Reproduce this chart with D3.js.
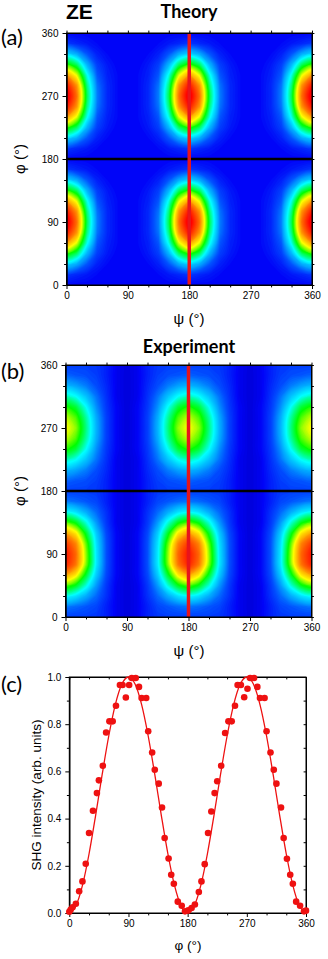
<!DOCTYPE html>
<html>
<head>
<meta charset="utf-8">
<script src="https://cdn.jsdelivr.net/npm/d3@7"></script>
<style>
html, body { margin: 0; padding: 0; background: #fff; }
svg { display: block; }
text { font-family: "Liberation Sans", Arial, sans-serif; fill: #000; }
.ttl { font-family: Lato, "Open Sans", sans-serif; font-weight: bold; }
.lbl { font-family: Lato, "Open Sans", sans-serif; }
</style>
</head>
<body>
<div id="fig"></div>
<script>
// sampling of the two maps, degrees
var psiGrid = [0,15,30,45,60,75,90,105,120,135,150,165,180,195,210,225,240,255,270,285,300,315,330,345,360];
var phiGrid = [0,15,30,45,60,75,90,105,120,135,150,165,180,195,210,225,240,255,270,285,300,315,330,345,360];

// SHG map, theory (rows = phi from 0 up, cols = psi), in %
var theoryMap = [
  [0,0,0,0,0,0,0,0,0,0,0,0,0,0,0,0,0,0,0,0,0,0,0,0,0],
  [7,5,3,1,0,0,0,0,0,1,3,5,7,5,3,1,0,0,0,0,0,1,3,5,7],
  [25,20,11,4,1,0,0,0,1,4,11,20,25,20,11,4,1,0,0,0,1,4,11,20,25],
  [50,41,21,8,3,0,0,0,3,8,21,41,50,41,21,8,3,0,0,0,3,8,21,41,50],
  [75,61,32,11,4,1,0,1,4,11,32,61,75,61,32,11,4,1,0,1,4,11,32,61,75],
  [93,76,39,14,5,1,0,1,5,14,39,76,93,76,39,14,5,1,0,1,5,14,39,76,93],
  [100,81,42,15,5,1,0,1,5,15,42,81,100,81,42,15,5,1,0,1,5,15,42,81,100],
  [93,76,39,14,5,1,0,1,5,14,39,76,93,76,39,14,5,1,0,1,5,14,39,76,93],
  [75,61,32,11,4,1,0,1,4,11,32,61,75,61,32,11,4,1,0,1,4,11,32,61,75],
  [50,41,21,8,3,0,0,0,3,8,21,41,50,41,21,8,3,0,0,0,3,8,21,41,50],
  [25,20,11,4,1,0,0,0,1,4,11,20,25,20,11,4,1,0,0,0,1,4,11,20,25],
  [7,5,3,1,0,0,0,0,0,1,3,5,7,5,3,1,0,0,0,0,0,1,3,5,7],
  [0,0,0,0,0,0,0,0,0,0,0,0,0,0,0,0,0,0,0,0,0,0,0,0,0],
  [7,5,3,1,0,0,0,0,0,1,3,5,7,5,3,1,0,0,0,0,0,1,3,5,7],
  [25,20,11,4,1,0,0,0,1,4,11,20,25,20,11,4,1,0,0,0,1,4,11,20,25],
  [50,41,21,8,3,0,0,0,3,8,21,41,50,41,21,8,3,0,0,0,3,8,21,41,50],
  [75,61,32,11,4,1,0,1,4,11,32,61,75,61,32,11,4,1,0,1,4,11,32,61,75],
  [93,76,39,14,5,1,0,1,5,14,39,76,93,76,39,14,5,1,0,1,5,14,39,76,93],
  [100,81,42,15,5,1,0,1,5,15,42,81,100,81,42,15,5,1,0,1,5,15,42,81,100],
  [93,76,39,14,5,1,0,1,5,14,39,76,93,76,39,14,5,1,0,1,5,14,39,76,93],
  [75,61,32,11,4,1,0,1,4,11,32,61,75,61,32,11,4,1,0,1,4,11,32,61,75],
  [50,41,21,8,3,0,0,0,3,8,21,41,50,41,21,8,3,0,0,0,3,8,21,41,50],
  [25,20,11,4,1,0,0,0,1,4,11,20,25,20,11,4,1,0,0,0,1,4,11,20,25],
  [7,5,3,1,0,0,0,0,0,1,3,5,7,5,3,1,0,0,0,0,0,1,3,5,7],
  [0,0,0,0,0,0,0,0,0,0,0,0,0,0,0,0,0,0,0,0,0,0,0,0,0]
];

// SHG map, experiment (same grid), in %
var experimentMap = [
  [8,8,8,7,4,-1,-4,-1,4,7,8,8,8,8,8,7,4,-1,-4,-1,4,7,8,8,8],
  [14,13,11,9,4,-1,-4,-1,4,9,11,13,14,13,11,9,4,-1,-4,-1,4,9,11,13,14],
  [30,27,20,13,6,-1,-4,-1,6,13,20,27,30,27,20,13,6,-1,-4,-1,6,13,20,27,30],
  [52,46,33,18,7,-1,-4,-1,7,18,33,46,52,46,33,18,7,-1,-4,-1,7,18,33,46,52],
  [74,65,45,24,9,0,-4,0,9,24,45,65,74,65,45,24,9,0,-4,0,9,24,45,65,74],
  [91,80,55,28,10,0,-4,0,10,28,55,80,91,80,55,28,10,0,-4,0,10,28,55,80,91],
  [93,82,56,28,10,0,-4,0,10,28,56,82,93,82,56,28,10,0,-4,0,10,28,56,82,93],
  [88,78,53,27,10,0,-4,0,10,27,53,78,88,78,53,27,10,0,-4,0,10,27,53,78,88],
  [74,65,45,24,9,0,-4,0,9,24,45,65,74,65,45,24,9,0,-4,0,9,24,45,65,74],
  [52,46,33,18,7,-1,-4,-1,7,18,33,46,52,46,33,18,7,-1,-4,-1,7,18,33,46,52],
  [30,27,20,13,6,-1,-4,-1,6,13,20,27,30,27,20,13,6,-1,-4,-1,6,13,20,27,30],
  [14,13,11,9,4,-1,-4,-1,4,9,11,13,14,13,11,9,4,-1,-4,-1,4,9,11,13,14],
  [8,8,8,7,4,-1,-4,-1,4,7,8,8,8,8,8,7,4,-1,-4,-1,4,7,8,8,8],
  [12,11,10,8,4,-1,-4,-1,4,8,10,11,12,11,10,8,4,-1,-4,-1,4,8,10,11,12],
  [21,19,15,10,5,-1,-4,-1,5,10,15,19,21,19,15,10,5,-1,-4,-1,5,10,15,19,21],
  [35,31,23,14,6,-1,-4,-1,6,14,23,31,35,31,23,14,6,-1,-4,-1,6,14,23,31,35],
  [49,44,31,17,7,0,-4,0,7,17,31,44,49,44,31,17,7,0,-4,0,7,17,31,44,49],
  [59,52,37,20,8,0,-4,0,8,20,37,52,59,52,37,20,8,0,-4,0,8,20,37,52,59],
  [63,56,39,21,8,0,-4,0,8,21,39,56,63,56,39,21,8,0,-4,0,8,21,39,56,63],
  [59,52,37,20,8,0,-4,0,8,20,37,52,59,52,37,20,8,0,-4,0,8,20,37,52,59],
  [49,44,31,17,7,0,-4,0,7,17,31,44,49,44,31,17,7,0,-4,0,7,17,31,44,49],
  [35,31,23,14,6,-1,-4,-1,6,14,23,31,35,31,23,14,6,-1,-4,-1,6,14,23,31,35],
  [21,19,15,10,5,-1,-4,-1,5,10,15,19,21,19,15,10,5,-1,-4,-1,5,10,15,19,21],
  [12,11,10,8,4,-1,-4,-1,4,8,10,11,12,11,10,8,4,-1,-4,-1,4,8,10,11,12],
  [8,8,8,7,4,-1,-4,-1,4,7,8,8,8,8,8,7,4,-1,-4,-1,4,7,8,8,8]
];

// cuts marked on the maps
var cutPsi = [180];
var cutPhi = [180];

// (c) SHG vs phi at psi = 180
var shgPhi = [0,2,5,10,15,20,25,30,36,42,45,51,56,61,66,71,77,81,86,91,95,101,106,110,117,120,126,130,136,141,145,151,155,159,165,171,176,
              181,186,191,197,201,206,211,216,221,225,231,237,242,247,252,256,261,266,271,275,281,286,290,297,300,306,311,315,322,326,331,336,340,345,351,357,360];
var shgVal = [0.005,0.014,0.024,0.039,0.092,0.134,0.209,0.339,0.433,0.508,0.562,0.624,0.765,0.812,0.812,0.878,0.966,0.966,0.913,0.966,0.996,0.996,0.958,0.911,0.911,0.77,0.68,0.607,0.548,0.447,0.318,0.231,0.162,0.124,0.048,0.031,0.007,
              0.011,0.021,0.036,0.089,0.134,0.207,0.339,0.43,0.508,0.558,0.624,0.763,0.812,0.812,0.878,0.966,0.966,0.914,0.95,0.996,0.996,0.958,0.911,0.911,0.77,0.68,0.607,0.548,0.447,0.318,0.23,0.162,0.124,0.048,0.031,0.007,0.01];
var fitPhi = [0,10,20,30,40,50,60,70,80,90,100,110,120,130,140,150,160,170,180,190,200,210,220,230,240,250,260,270,280,290,300,310,320,330,340,350,360];
var fitVal = [0,0.03,0.117,0.25,0.413,0.587,0.75,0.883,0.97,1,0.97,0.883,0.75,0.587,0.413,0.25,0.117,0.03,0,
              0.03,0.117,0.25,0.413,0.587,0.75,0.883,0.97,1,0.97,0.883,0.75,0.587,0.413,0.25,0.117,0.03,0];

var angleTicks = [0,90,180,270,360];
var angleMinor = [30,60,120,150,210,240,300,330];
var shgTicks = [0,0.2,0.4,0.6,0.8,1.0];
var shgMinor = [0.1,0.3,0.5,0.7,0.9];

var W = 328, H = 959;
var svg = d3.select("#fig").append("svg").attr("width", W).attr("height", H);
svg.append("rect").attr("width", W).attr("height", H).attr("fill", "#fff");

// rainbow palette
var cmap = d3.scaleLinear()
  .domain([-0.05, 0, 0.1, 0.18, 0.3, 0.47, 0.62, 0.78, 0.95])
  .range(["#0000d8","#0004f8","#0050ff","#00a0ff","#00ffff","#00ff00","#ffff00","#ff8000","#ff0000"])
  .clamp(true);
var levels = d3.range(-0.05, 1.005, 0.01);

function axes(g, x, y, xt, xm, yt, ym, yfmt, tk, inward) {
  var big = tk, small = tk * 0.6;
  var o = inward ? -1 : 1;
  var hb = y.range()[0], ht = y.range()[1], xl = x.range()[0], xr = x.range()[1];
  g.append("g").attr("transform", "translate(0," + hb + ")")
    .call(d3.axisBottom(x).tickValues(xt).tickSize(big).tickSizeOuter(0).tickPadding(3).tickFormat(d3.format("d")));
  g.append("g").attr("transform", "translate(0," + hb + ")")
    .call(d3.axisBottom(x).tickValues(xm).tickSize(small).tickSizeOuter(0).tickFormat(""));
  g.append("g").attr("transform", "translate(" + xl + ",0)")
    .call(d3.axisLeft(y).tickValues(yt).tickSize(big).tickSizeOuter(0).tickPadding(4).tickFormat(yfmt));
  g.append("g").attr("transform", "translate(" + xl + ",0)")
    .call(d3.axisLeft(y).tickValues(ym).tickSize(small).tickSizeOuter(0).tickFormat(""));
  g.append("g").attr("transform", "translate(0," + ht + ")")
    .call(d3.axisTop(x).tickValues(xt.concat(xm)).tickSize(o * small).tickSizeOuter(0).tickFormat(""));
  g.append("g").attr("transform", "translate(" + xr + ",0)")
    .call(d3.axisRight(y).tickValues(yt.concat(ym)).tickSize(o * small).tickSizeOuter(0).tickFormat(""));
  g.selectAll(".domain, .tick line").attr("stroke", "#000").attr("stroke-width", 1);
  g.selectAll(".tick text").attr("fill", "#000");
}

function heatmap(id, data, left, right, top, bottom, fs) {
  var x = d3.scaleLinear().domain([0, 360]).range([left, right]);
  var y = d3.scaleLinear().domain([0, 360]).range([bottom, top]);
  var nx = psiGrid.length, ny = phiGrid.length;
  var values = [];
  data.forEach(function (row) { row.forEach(function (v) { values.push(v / 100); }); });
  var gx = d3.scaleLinear().domain([0.5, nx - 0.5]).range([x(psiGrid[0]), x(psiGrid[nx - 1])]);
  var gy = d3.scaleLinear().domain([0.5, ny - 0.5]).range([y(phiGrid[0]), y(phiGrid[ny - 1])]);

  svg.append("clipPath").attr("id", id).append("rect")
    .attr("x", left).attr("y", top).attr("width", right - left).attr("height", bottom - top);
  var g = svg.append("g");
  var layer = g.append("g").attr("clip-path", "url(#" + id + ")");
  layer.append("rect").attr("x", left).attr("y", top).attr("width", right - left).attr("height", bottom - top)
    .attr("fill", cmap(d3.min(values)));

  var contours = d3.contours().size([nx, ny]).thresholds(levels).smooth(true)(values);
  var line = d3.line().curve(d3.curveCatmullRomClosed.alpha(0.5));
  layer.selectAll("path.lv").data(contours).join("path")
    .attr("class", "lv")
    .attr("fill", function (c) { return cmap(c.value); })
    .attr("fill-rule", "evenodd")
    .attr("d", function (c) {
      return c.coordinates.map(function (poly) {
        return poly.map(function (ring) {
          return line(ring.slice(0, -1).map(function (p) { return [gx(p[0]), gy(p[1])]; }));
        }).join("");
      }).join("");
    });

  // marked cuts
  layer.selectAll("line.hcut").data(cutPhi).join("line").attr("class", "hcut")
    .attr("x1", left).attr("x2", right).attr("y1", y).attr("y2", y)
    .attr("stroke", "#000").attr("stroke-width", 2.6);
  layer.selectAll("line.vcut").data(cutPsi).join("line").attr("class", "vcut")
    .attr("y1", top).attr("y2", bottom).attr("x1", x).attr("x2", x)
    .attr("stroke", "#e8141b").attr("stroke-width", 3.5);

  var ax = g.append("g").style("font-size", fs + "px");
  axes(ax, x, y, angleTicks, angleMinor, angleTicks, angleMinor, d3.format("d"), 4, false);
  ax.append("rect").attr("x", left).attr("y", top).attr("width", right - left).attr("height", bottom - top)
    .attr("fill", "none").attr("stroke", "#000").attr("stroke-width", 1);
  return { x: x, y: y };
}

// (a) theory
var a = heatmap("clipA", theoryMap, 66.5, 312, 33, 285, 15);
svg.append("text").attr("x", 66).attr("y", 19).style("font-size", "21px").style("font-weight", "bold").text("ZE");
svg.append("text").attr("class", "ttl").attr("x", 189).attr("y", 18).attr("text-anchor", "middle").style("font-size", "18px").text("Theory");
svg.append("text").attr("class", "lbl").attr("x", 1).attr("y", 45).style("font-size", "22px").text("(a)");
svg.append("text").attr("x", 189).attr("y", 324).attr("text-anchor", "middle").style("font-size", "15px").text("ψ (°)");
svg.append("text").attr("transform", "translate(25,159) rotate(-90)").attr("text-anchor", "middle").style("font-size", "15px").text("φ (°)");

// (b) experiment
var b = heatmap("clipB", experimentMap, 65.5, 311.5, 365, 617, 15);
svg.append("text").attr("class", "ttl").attr("x", 189).attr("y", 353).attr("text-anchor", "middle").style("font-size", "18px").text("Experiment");
svg.append("text").attr("class", "lbl").attr("x", 1).attr("y", 379).style("font-size", "22px").text("(b)");
svg.append("text").attr("x", 189).attr("y", 656).attr("text-anchor", "middle").style("font-size", "15px").text("ψ (°)");
svg.append("text").attr("transform", "translate(25,491) rotate(-90)").attr("text-anchor", "middle").style("font-size", "15px").text("φ (°)");

// (c) SHG intensity vs phi
var xc = d3.scaleLinear().domain([0, 360]).range([69.3, 306]);
var yc = d3.scaleLinear().domain([0, 1]).range([913, 677]);
var gc = svg.append("g");
var axc = gc.append("g").style("font-size", "12.5px");
axes(axc, xc, yc, angleTicks, angleMinor, shgTicks, shgMinor, d3.format(".1f"), 4, true);
axc.append("rect").attr("x", 69.3).attr("y", 677).attr("width", 306 - 69.3).attr("height", 913 - 677)
  .attr("fill", "none").attr("stroke", "#000").attr("stroke-width", 1);

var fit = d3.line().x(function (d, i) { return xc(fitPhi[i]); }).y(function (d) { return yc(d); }).curve(d3.curveMonotoneX);
gc.append("path").datum(fitVal).attr("d", fit).attr("fill", "none").attr("stroke", "#ee1111").attr("stroke-width", 1.3);
gc.selectAll("circle").data(shgVal).join("circle")
  .attr("cx", function (d, i) { return xc(shgPhi[i]); })
  .attr("cy", function (d) { return yc(d); })
  .attr("r", 3.3).attr("fill", "#ee1111");

svg.append("text").attr("class", "lbl").attr("x", 1).attr("y", 692).style("font-size", "22px").text("(c)");
svg.append("text").attr("x", 188).attr("y", 950).attr("text-anchor", "middle").style("font-size", "13.5px").text("φ (°)");
svg.append("text").attr("transform", "translate(41,795) rotate(-90)").attr("text-anchor", "middle").style("font-size", "13.5px").text("SHG intensity (arb. units)");
</script>
</body>
</html>
